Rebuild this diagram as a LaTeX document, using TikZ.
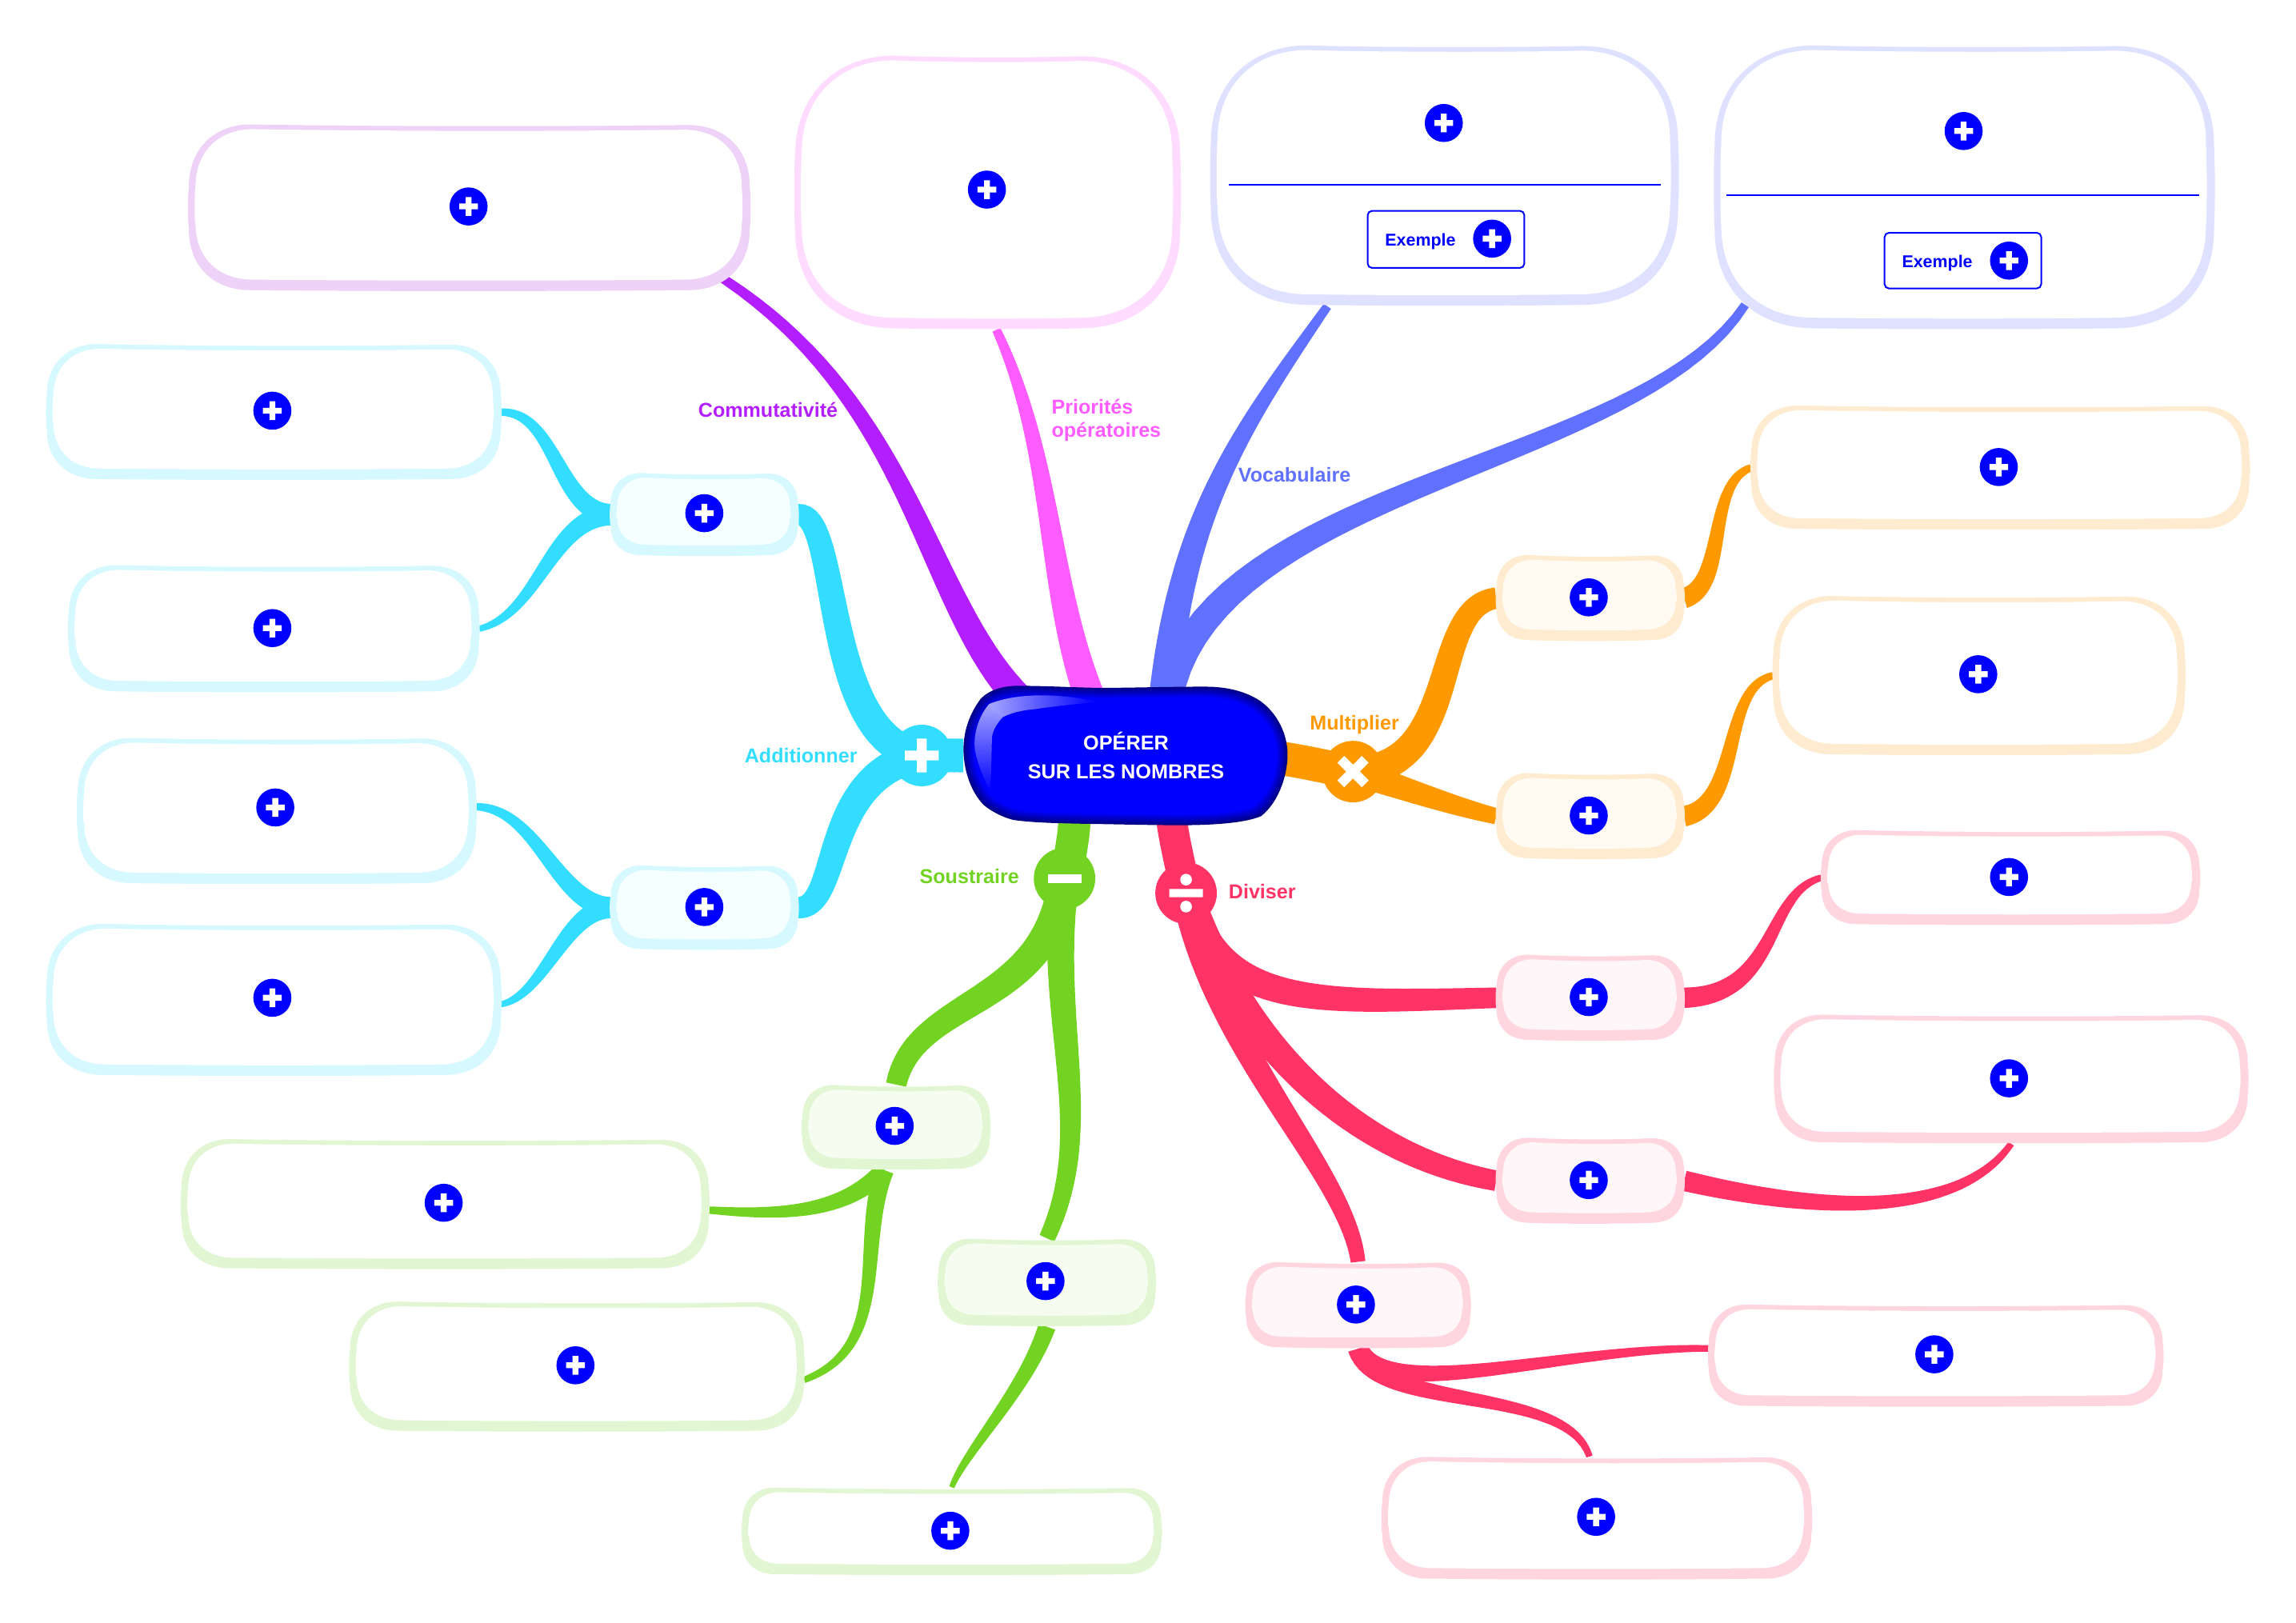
\documentclass[tikz,border=0pt]{standalone}
\usepackage{fontspec}
\setmainfont{Liberation Sans}
\usetikzlibrary{calc,fadings}
\pgfdeclarelayer{bg}
\pgfsetlayers{bg,main}
\definecolor{cPurple}{HTML}{B31EFF}
\definecolor{cPink}{HTML}{FF5CFF}
\definecolor{cBlue}{HTML}{6070FF}
\definecolor{cOrange}{HTML}{FF9900}
\definecolor{cCyan}{HTML}{33DDFF}
\definecolor{cGreen}{HTML}{72D322}
\definecolor{cRed}{HTML}{FF3366}
\definecolor{bPurple}{HTML}{EED2F8}
\definecolor{bPink}{HTML}{FFDCFF}
\definecolor{bBlue}{HTML}{DEE1FF}
\definecolor{bOrange}{HTML}{FFEBCF}
\definecolor{bCyan}{HTML}{D6F8FF}
\definecolor{bGreen}{HTML}{E3F6D3}
\definecolor{bRed}{HTML}{FFD6E0}
\definecolor{fOrange}{HTML}{FFFAF2}
\definecolor{fCyan}{HTML}{F6FFFF}
\definecolor{fGreen}{HTML}{F6FCF0}
\definecolor{fRed}{HTML}{FFF6F9}
\definecolor{pureBlue}{HTML}{0000FF}
\definecolor{navy}{HTML}{000088}
\tikzset{
  plusicon/.style={circle,fill=pureBlue,minimum size=26pt,inner sep=0pt,
    path picture={\fill[white,shift={(path picture bounding box.center)}]
      (-6.4,-2) rectangle (6.4,2) (-2,-6.4) rectangle (2,6.4);}},
  symcirc/.style={circle,fill=#1,minimum size=42pt,inner sep=0pt},
  symplus/.style={symcirc=#1,path picture={\fill[white,shift={(path picture bounding box.center)}]
      (-11.5,-3.3) rectangle (11.5,3.3) (-3.3,-11.5) rectangle (3.3,11.5);}},
  symminus/.style={symcirc=#1,path picture={\fill[white,shift={(path picture bounding box.center)}]
      (-11.5,-3) rectangle (11.5,3);}},
  symdiv/.style={symcirc=#1,path picture={\fill[white,shift={(path picture bounding box.center)}]
      (-11.5,-2.8) rectangle (11.5,2.8) (0,-9.2) circle (4) (0,9.2) circle (4);}},
  symtimes/.style={symcirc=#1,path picture={\fill[white,shift={(path picture bounding box.center)}]
      (-6,-10.7) -- (0,-4.7) -- (6,-10.7) -- (10.7,-6) -- (4.7,0) -- (10.7,6) -- (6,10.7) -- (0,4.7) -- (-6,10.7) -- (-10.7,6) -- (-4.7,0) -- (-10.7,-6) -- cycle;}},
  lab/.style={font=\bfseries\fontsize{13.7}{16}\selectfont,inner sep=0pt},
  exbox/.style={draw=pureBlue,line width=1.1pt,rounded corners=3pt,fill=white,inner sep=0pt},
  exlab/.style={font=\bfseries\fontsize{11.7}{14}\selectfont,text=pureBlue,inner sep=0pt},
  divline/.style={draw=pureBlue,line width=1.1pt},
}
\newcommand\bubpath[5]{({#1},{#2+#5}) .. controls ({#1},{#2+.4*#5}) and ({#1+.4*#5},{#2}) .. ({#1+#5},{#2})
 .. controls ({#1+.35*(#3-#1)},{#2+1.5}) and ({#1+.65*(#3-#1)},{#2+1.5}) .. ({#3-#5},{#2+.4})
 .. controls ({#3-.4*#5},{#2+.4}) and ({#3},{#2+.4*#5}) .. ({#3},{#2+#5})
 .. controls ({#3+.8},{#2+.45*(#4-#2)}) and ({#3+.8},{#2+.55*(#4-#2)}) .. ({#3},{#4-#5})
 .. controls ({#3},{#4-.4*#5}) and ({#3-.4*#5},{#4-.8}) .. ({#3-#5},{#4-.8})
 .. controls ({#1+.65*(#3-#1)},{#4}) and ({#1+.35*(#3-#1)},{#4}) .. ({#1+#5},{#4-.8})
 .. controls ({#1+.4*#5},{#4-.8}) and ({#1},{#4-.4*#5}) .. ({#1},{#4-#5})
 .. controls ({#1-.8},{#2+.6*(#4-#2)}) and ({#1-.8},{#2+.4*(#4-#2)}) .. cycle}
% name x0 y0 x1 y1 border fill
\newcommand\bubble[7]{%
 \pgfmathsetmacro\bubR{min(0.37*(#5-#3),68)}%
 \pgfmathsetmacro\bubRi{0.93*\bubR}%
 \node[inner sep=0pt,minimum width={(#4-#2)*1pt},minimum height={(#5-#3)*1pt}] (#1) at ({(#2+#4)/2},{(#3+#5)/2}) {};
 \fill[#6] \bubpath{#2}{#3}{#4}{#5}{\bubR};
 \fill[#7] \bubpath{#2+4.5}{#3+3.2}{#4-5.5}{#5-7.2}{\bubRi};
}
% colour, start, c1, c2, end, half width start, half width end
% a constant-offset tapered ribbon around one Bezier curve
\newcommand\taper[7]{%
 \path #2; \pgfgetlastxy{\qax}{\qay}%
 \path #3; \pgfgetlastxy{\qbx}{\qby}%
 \path #4; \pgfgetlastxy{\qcx}{\qcy}%
 \path #5; \pgfgetlastxy{\qdx}{\qdy}%
 \gdef\Lpts{}\gdef\Rpts{}%
 \foreach \qk in {0,...,36}{%
   \pgfmathsetmacro\qt{\qk/36}%
   \pgfmathsetmacro\qu{1-\qt}%
   \pgfmathsetmacro\qpx{\qu*\qu*\qu*\qax+3*\qu*\qu*\qt*\qbx+3*\qu*\qt*\qt*\qcx+\qt*\qt*\qt*\qdx}%
   \pgfmathsetmacro\qpy{\qu*\qu*\qu*\qay+3*\qu*\qu*\qt*\qby+3*\qu*\qt*\qt*\qcy+\qt*\qt*\qt*\qdy}%
   \pgfmathsetmacro\qtx{\qu*\qu*(\qbx-\qax)+2*\qu*\qt*(\qcx-\qbx)+\qt*\qt*(\qdx-\qcx)}%
   \pgfmathsetmacro\qty{\qu*\qu*(\qby-\qay)+2*\qu*\qt*(\qcy-\qby)+\qt*\qt*(\qdy-\qcy)}%
   \pgfmathsetmacro\qln{max(veclen(\qtx,\qty),0.001)}%
   \pgfmathsetmacro\qw{#6+(#7-#6)*\qt}%
   \pgfmathsetmacro\qlx{\qpx-\qty/\qln*\qw}%
   \pgfmathsetmacro\qly{\qpy+\qtx/\qln*\qw}%
   \pgfmathsetmacro\qrx{\qpx+\qty/\qln*\qw}%
   \pgfmathsetmacro\qry{\qpy-\qtx/\qln*\qw}%
   \xdef\Lpts{\Lpts -- (\qlx pt,\qly pt)}%
   \xdef\Rpts{(\qrx pt,\qry pt) -- \Rpts}%
 }%
 \begin{pgfonlayer}{bg}
 \fill[#1] (\qax,\qay) \Lpts -- \Rpts cycle;
 \end{pgfonlayer}
}
\newcommand\blobpath{(695.6,468.4) .. controls (720,468.5) and (740,470) .. (757.6,469.8)
 .. controls (780,469.6) and (800,469) .. (823,469)
 .. controls (840,469) and (852,473) .. (861,479)
 .. controls (873,488) and (879.3,502) .. (879.3,515.4)
 .. controls (879.3,530) and (873,548) .. (861.4,557.3)
 .. controls (850,562.5) and (825,563.6) .. (806.7,563.6)
 .. controls (785,563.6) and (765,563) .. (743,562.7)
 .. controls (725,562.3) and (705,562) .. (692,560)
 .. controls (684,558) and (677,554) .. (672,550)
 .. controls (663,541) and (658,526) .. (658,511.7)
 .. controls (658,498) and (663,486) .. (670,477)
 .. controls (676,471) and (685,468.4) .. (695.6,468.4) -- cycle}
\begin{document}
\begin{tikzpicture}[x=1pt,y=-1pt]
\useasboundingbox (0,0) rectangle (1568,1108.5);

% ---------- large bubbles
\bubble{p1}{129}{85}{512}{199}{bPurple}{white}
\bubble{p2}{543}{38}{806}{225}{bPink}{white}
\bubble{v1}{827}{31}{1146}{209}{bBlue}{white}
\bubble{v2}{1171}{31}{1512}{225}{bBlue}{white}
\bubble{c1}{32}{235}{342}{328}{bCyan}{white}
\bubble{c2}{47}{386}{327}{473}{bCyan}{white}
\bubble{c3}{53}{504}{325}{604}{bCyan}{white}
\bubble{c4}{32}{631}{342}{735}{bCyan}{white}
\bubble{o1}{1196}{277}{1536}{362}{bOrange}{white}
\bubble{o2}{1211}{407}{1492}{516}{bOrange}{white}
\bubble{r1}{1244}{567}{1502}{632}{bRed}{white}
\bubble{r2}{1212}{693}{1535}{781}{bRed}{white}
\bubble{r3}{1167}{891}{1477}{961}{bRed}{white}
\bubble{r4}{944}{995}{1237}{1079}{bRed}{white}
\bubble{g1}{124}{778}{484}{867}{bGreen}{white}
\bubble{g2}{239}{889}{549}{978}{bGreen}{white}
\bubble{g3}{507}{1016}{793}{1076}{bGreen}{white}
% ---------- intermediate boxes
\bubble{ca}{417}{323}{545}{380}{bCyan}{fCyan}
\bubble{cb}{417}{591}{545}{649}{bCyan}{fCyan}
\bubble{oa}{1022}{379}{1150}{438}{bOrange}{fOrange}
\bubble{ob}{1022}{528}{1150}{587}{bOrange}{fOrange}
\bubble{ra}{1022}{652}{1150}{711}{bRed}{fRed}
\bubble{rb}{1022}{777}{1150}{836}{bRed}{fRed}
\bubble{rc}{851}{862}{1004}{921}{bRed}{fRed}
\bubble{ga}{548}{741}{676}{799}{bGreen}{fGreen}
\bubble{gb}{641}{846}{789}{906}{bGreen}{fGreen}

% ---------- plus icons
\node[plusicon] (ip1) at (320,141) {};
\node[plusicon] (ip2) at (674,129.5) {};
\node[plusicon] (iv1) at (986,84) {};
\node[plusicon] (iv2) at (1341,89.5) {};
\node[plusicon] (ic1) at (186,280.5) {};
\node[plusicon] (ic2) at (186,429) {};
\node[plusicon] (ic3) at (188,551.5) {};
\node[plusicon] (ic4) at (186,681.5) {};
\node[plusicon] (ica) at (481,350.5) {};
\node[plusicon] (icb) at (481,619.5) {};
\node[plusicon] (io1) at (1365,319) {};
\node[plusicon] (io2) at (1351,460.5) {};
\node[plusicon] (ioa) at (1085,408) {};
\node[plusicon] (iob) at (1085,557) {};
\node[plusicon] (ir1) at (1372,599) {};
\node[plusicon] (ir2) at (1372,736.5) {};
\node[plusicon] (ir3) at (1321,925) {};
\node[plusicon] (ir4) at (1090,1036) {};
\node[plusicon] (ira) at (1085,681) {};
\node[plusicon] (irb) at (1085,806) {};
\node[plusicon] (irc) at (926,891) {};
\node[plusicon] (ig1) at (303,821.5) {};
\node[plusicon] (ig2) at (393,932.5) {};
\node[plusicon] (ig3) at (649,1045.5) {};
\node[plusicon] (iga) at (611,769) {};
\node[plusicon] (igb) at (714,875) {};

% ---------- example panels
\coordinate (v1l) at (839,126); \coordinate (v1r) at (1134,126);
\draw[divline] (v1l) -- (v1r);
\node[exbox,minimum width=107pt,minimum height=39pt] (ex1) at (987.5,163.5) {};
\node[exlab] (ext1) at (970,165) {Exemple};
\node[plusicon] (iex1) at (1019,163) {};
\coordinate (v2l) at (1179,133.5); \coordinate (v2r) at (1502,133.5);
\draw[divline] (v2l) -- (v2r);
\node[exbox,minimum width=107pt,minimum height=38pt] (ex2) at (1340.5,178) {};
\node[exlab] (ext2) at (1323,179.5) {Exemple};
\node[plusicon] (iex2) at (1372,178) {};

% ---------- central blob
\foreach \i/\m in {0/0,1/14,2/28,3/42,4/56,5/70,6/85,7/100}{
  \fill[pureBlue!\m!navy,shift={(769,516)},xscale={(111-\i)/111},yscale={(47.5-\i)/47.5},shift={(-769,-516)}] \blobpath;
}
\fill[white,opacity=.65,path fading=south] (676,540.5) .. controls (669,525) and (665,515) .. (665.6,506)
  .. controls (666,497) and (670,487) .. (675.6,480.8) -- (684.7,489.9)
  .. controls (680,495) and (677.5,500) .. (677.4,504.4)
  .. controls (677,520) and (677,530) .. (676,540.5) -- cycle;
\fill[white,opacity=.65,path fading=east] (675.6,480.8) .. controls (685,477) and (695,475.5) .. (706.6,475)
  .. controls (722,474.5) and (738,476.5) .. (748.5,479.3)
  .. controls (735,481) and (718,482.5) .. (706.6,484.4)
  .. controls (698,485) and (690,487) .. (684.7,489.9) -- cycle;
\node[inner sep=0pt,minimum width=222pt,minimum height=95pt,align=center,text=white,
  font=\bfseries\fontsize{13.8}{20}\selectfont] (ctr) at (769,516) {OPÉRER\\SUR LES NOMBRES};

% ---------- symbol circles
\node[symplus=cCyan] (scy) at (629.5,516) {};
\node[symtimes=cOrange] (sor) at (924,527) {};
\node[symminus=cGreen] (sgr) at (727,600) {};
\node[symdiv=cRed] (sdi) at (810,610) {};

% ---------- main branches
\taper{cPurple}{($(ctr.north)+(-72,10)$)}{(630,410)}{(625,270)}{($(p1.south east)+(-28,-15)$)}{10}{3}
\taper{cPink}{($(ctr.north)+(-24,10)$)}{(715,400)}{(720,310)}{($(p2.south)+(6,0)$)}{10.5}{3}
\taper{cBlue}{($(ctr.north)+(26,10)$)}{(806,350)}{(850,290)}{($(v1.south)+(-80,0)$)}{10.5}{3}
\taper{cBlue}{($(ctr.north)+(28,10)$)}{(825,330)}{(1120,320)}{($(v2.south west)+(21,-17)$)}{10.5}{3}
\taper{cCyan}{(ctr.west)}{(650,516)}{(640,516)}{(scy)}{11.5}{11.5}
\taper{cOrange}{($(ctr.east)+(-5,2)$)}{(895,521)}{(910,525)}{(sor)}{11.5}{11.5}
\taper{cGreen}{($(ctr.south)+(-35,-5)$)}{(733,575)}{(730,590)}{(sgr)}{11}{11}
\taper{cRed}{($(ctr.south)+(31,-5)$)}{(802,575)}{(806,590)}{(sdi)}{10.5}{10.5}

% ---------- cyan
\taper{cCyan}{(scy)}{(560,505)}{(575,350)}{(ca.east)}{11}{7.3}
\taper{cCyan}{(scy)}{(560,530)}{(575,620)}{(cb.east)}{11}{7.3}
\taper{cCyan}{(ca.west)}{(380,348)}{(380,281)}{(c1.east)}{7.3}{2.5}
\taper{cCyan}{(ca.west)}{(375,355)}{(368,420)}{(c2.east)}{7.3}{2}
\taper{cCyan}{(cb.west)}{(380,617)}{(367,552)}{($(c3.east)+(0,-3)$)}{7.3}{2.5}
\taper{cCyan}{(cb.west)}{(385,622)}{(372,680)}{($(c4.east)+(0,3)$)}{7.3}{2}
% ---------- orange
\taper{cOrange}{(sor)}{(1000,525)}{(975,415)}{(oa.west)}{10.5}{7.3}
\taper{cOrange}{(sor)}{(955,537)}{(990,550)}{(ob.west)}{9.5}{5.5}
\taper{cOrange}{(oa.east)}{(1180,400)}{(1165,330)}{(o1.west)}{7}{2.5}
\taper{cOrange}{(ob.east)}{(1190,550)}{(1175,470)}{(o2.west)}{7}{2.5}
% ---------- red
\taper{cRed}{(sdi)}{(830,690)}{(900,685)}{(ra.west)}{11}{7}
\taper{cRed}{(sdi)}{(850,720)}{(930,790)}{(rb.west)}{11}{7}
\taper{cRed}{(sdi)}{(830,720)}{(920,800)}{(rc.north)}{10}{5}
\taper{cRed}{(ra.east)}{(1215,680)}{(1205,610)}{(r1.west)}{7}{2.2}
\taper{cRed}{(rb.east)}{(1250,830)}{(1340,830)}{(r2.south)}{7}{2.2}
\taper{cRed}{(rc.south)}{(945,960)}{(1070,920)}{($(r3.west)+(0,-5)$)}{7}{2.2}
\taper{cRed}{(rc.south)}{(940,965)}{(1070,945)}{($(r4.north)+(-5,0)$)}{7}{2.2}
% ---------- green
\taper{cGreen}{(sgr)}{(715,690)}{(625,680)}{(ga.north)}{11}{7}
\taper{cGreen}{(sgr)}{(715,700)}{(750,770)}{(gb.north)}{10}{5.5}
\taper{cGreen}{(gb.south)}{(700,950)}{(660,990)}{(g3.north)}{6}{1.8}
\taper{cGreen}{($(ga.south)+(-8,0)$)}{(575,830)}{(530,830)}{($(g1.east)+(0,4)$)}{6.5}{2.5}
\taper{cGreen}{($(ga.south)+(-8,0)$)}{(585,850)}{(610,920)}{($(g2.east)+(0,9)$)}{6.5}{2.2}

% ---------- labels
\node[lab,text=cPurple] (lcom) at (524.5,280) {Commutativité};
\node[lab,text=cPink,align=left,anchor=west,font=\bfseries\fontsize{13.7}{16}\selectfont] (lpri) at (718,287) {Priorités\\opératoires};
\node[lab,text=cBlue] (lvoc) at (884,324.5) {Vocabulaire};
\node[lab,text=cOrange] (lmul) at (925,495) {Multiplier};
\node[lab,text=cCyan] (ladd) at (547,516) {Additionner};
\node[lab,text=cGreen] (lsou) at (662,598.5) {Soustraire};
\node[lab,text=cRed] (ldiv) at (862,609) {Diviser};
\end{tikzpicture}
\end{document}
